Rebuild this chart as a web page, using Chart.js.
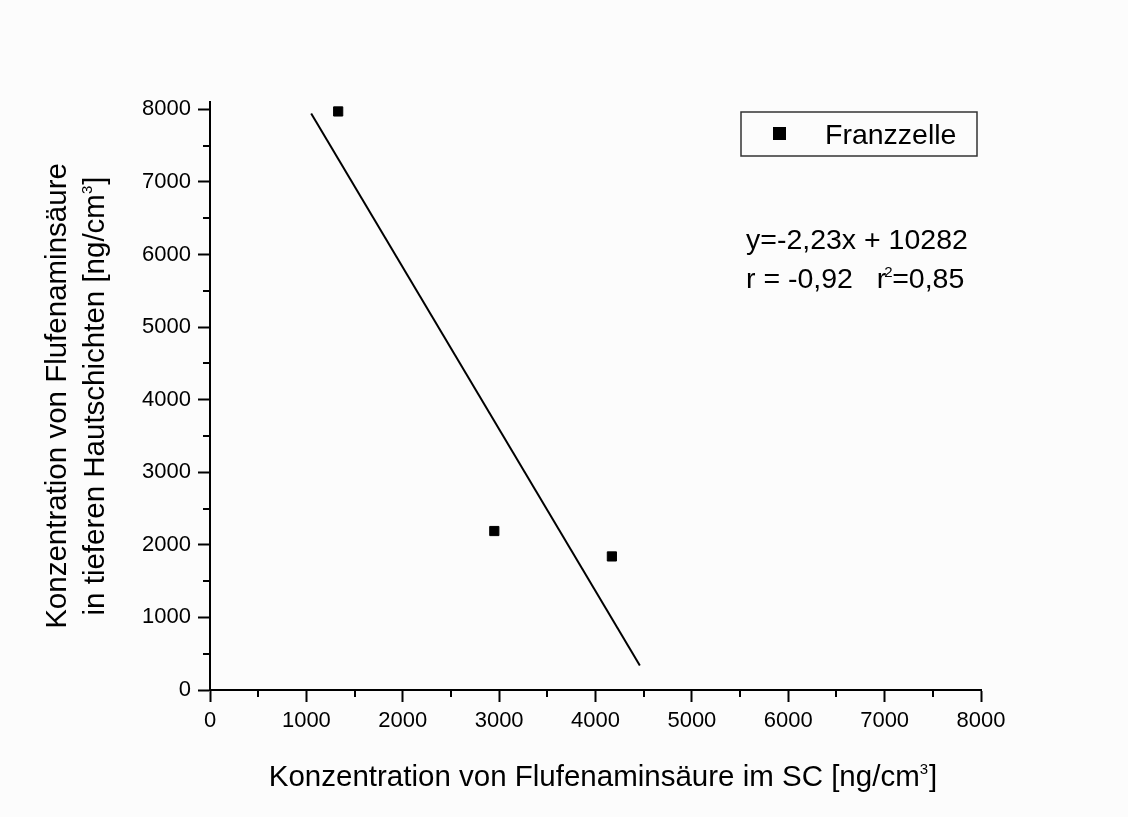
<!DOCTYPE html>
<html>
<head>
<meta charset="utf-8">
<script src="https://cdn.jsdelivr.net/npm/chart.js@4/dist/chart.umd.min.js"></script>
<style>
  html, body { margin: 0; padding: 0; background: #fcfcfc; }
  #wrap { width: 1128px; height: 817px; }
</style>
</head>
<body>
<div id="wrap"><canvas id="myChart" width="1128" height="817"></canvas></div>
<script>
// Messwerte (Franzzelle)
const scWerte = [1330, 2950, 4170];        // Konzentration im SC [ng/cm3]
const tiefeWerte = [7970, 2190, 1840];     // Konzentration in tieferen Hautschichten [ng/cm3]

// Regressionsgerade y = -2,23x + 10282
const steigung = -2.23;
const achsenabschnitt = 10282;
const fitBereich = [1050, 4460];

// Achsenbeschriftung
const xTicks = [0, 1000, 2000, 3000, 4000, 5000, 6000, 7000, 8000];
const yTicks = [0, 1000, 2000, 3000, 4000, 5000, 6000, 7000, 8000];
const minorStep = 500;

const schrift = "Arial, 'Liberation Sans', sans-serif";
const titelGroesse = 29.5;
const textGroesse = 28.5;

// Text mit hochgestellter Ziffer, z.B. "[ng/cm" + "3" + "]"
function hochText(ctx, vorne, hoch, hinten, x, y, groesse) {
    ctx.font = groesse + 'px ' + schrift;
    const b1 = ctx.measureText(vorne).width;
    ctx.fillText(vorne, x, y);
    ctx.font = '15px ' + schrift;
    ctx.fillText(hoch, x + b1, y - 12);
    const b2 = ctx.measureText(hoch).width;
    ctx.font = groesse + 'px ' + schrift;
    ctx.fillText(hinten, x + b1 + b2 + 1, y);
}

function hochBreite(ctx, vorne, hoch, hinten, groesse) {
    ctx.font = '15px ' + schrift;
    const b2 = ctx.measureText(hoch).width;
    ctx.font = groesse + 'px ' + schrift;
    return ctx.measureText(vorne).width + b2 + 1 + ctx.measureText(hinten).width;
}

// Nebenstriche, Achsentitel, Legende und Gleichung
const extras = {
    id: 'extras',
    afterDraw(chart) {
        const ctx = chart.ctx;
        const xs = chart.scales.x;
        const ys = chart.scales.y;
        const area = chart.chartArea;
        ctx.save();
        ctx.strokeStyle = '#000';
        ctx.lineWidth = 2;

        // Nebenstriche
        ctx.beginPath();
        for (let v = minorStep; v < 8000; v += 1000) {
            const px = Math.round(xs.getPixelForValue(v));
            ctx.moveTo(px, area.bottom);
            ctx.lineTo(px, area.bottom + 7);
            const py = Math.round(ys.getPixelForValue(v));
            ctx.moveTo(area.left, py);
            ctx.lineTo(area.left - 7, py);
        }
        ctx.stroke();

        ctx.fillStyle = '#000';
        ctx.textBaseline = 'alphabetic';
        ctx.textAlign = 'left';

        // x-Achsentitel
        const xVorne = 'Konzentration von Flufenaminsäure im SC [ng/cm';
        const xBreite = hochBreite(ctx, xVorne, '3', ']', titelGroesse);
        hochText(ctx, xVorne, '3', ']', 603 - xBreite / 2, 786, titelGroesse);

        // y-Achsentitel (zweizeilig, gedreht)
        ctx.save();
        ctx.rotate(-Math.PI / 2);
        ctx.textAlign = 'center';
        ctx.font = titelGroesse + 'px ' + schrift;
        ctx.fillText('Konzentration von Flufenaminsäure', -396, 66);
        ctx.textAlign = 'left';
        const yVorne = 'in tieferen Hautschichten [ng/cm';
        const yBreite = hochBreite(ctx, yVorne, '3', ']', titelGroesse);
        hochText(ctx, yVorne, '3', ']', -396 - yBreite / 2, 104, titelGroesse);
        ctx.restore();

        // Legende
        ctx.lineWidth = 1.5;
        ctx.strokeStyle = '#333';
        ctx.strokeRect(741, 112, 236, 44);
        ctx.fillRect(773, 127, 13, 13);
        ctx.font = textGroesse + 'px ' + schrift;
        ctx.fillText('Franzzelle', 825, 144);

        // Gleichung
        ctx.fillText('y=-2,23x + 10282', 746, 249);
        ctx.fillText('r = -0,92', 746, 288);
        const rx = 746 + ctx.measureText('r = -0,92   ').width;
        ctx.fillText('r', rx, 288);
        const rb = ctx.measureText('r').width;
        ctx.font = '15px ' + schrift;
        ctx.fillText('2', rx + rb - 2, 277);
        ctx.font = textGroesse + 'px ' + schrift;
        ctx.fillText('=0,85', rx + rb + 6, 288);
        ctx.restore();
    }
};

const punkte = scWerte.map((x, i) => ({ x: x, y: tiefeWerte[i] }));
const fitLinie = fitBereich.map(x => ({ x: x, y: steigung * x + achsenabschnitt }));

const ctx = document.getElementById('myChart').getContext('2d');
new Chart(ctx, {
    type: 'scatter',
    data: {
        datasets: [{
            label: 'Franzzelle',
            data: punkte,
            pointStyle: 'rect',
            radius: 6.5,
            backgroundColor: '#000',
            borderColor: '#000',
            borderWidth: 1
        }, {
            label: 'Fit',
            type: 'line',
            data: fitLinie,
            borderColor: '#000',
            borderWidth: 2,
            pointRadius: 0,
            fill: false
        }]
    },
    options: {
        responsive: false,
        animation: false,
        layout: { padding: { top: 102, right: 147, bottom: 0, left: 0 } },
        plugins: {
            legend: { display: false },
            tooltip: { enabled: false }
        },
        scales: {
            x: {
                type: 'linear',
                min: 0,
                max: 8000,
                afterFit(scale) { scale.height = 127; },
                afterBuildTicks(scale) { scale.ticks = xTicks.map(v => ({ value: v })); },
                border: { display: true, color: '#000', width: 2 },
                grid: { drawOnChartArea: false, drawTicks: true, tickLength: 12, tickWidth: 2, tickColor: '#000' },
                ticks: {
                    color: '#000', padding: 6, maxRotation: 0,
                    font: { family: schrift, size: 22 },
                    callback: v => String(v)
                }
            },
            y: {
                type: 'linear',
                min: 0,
                max: 8100,
                afterFit(scale) { scale.width = 210; },
                afterBuildTicks(scale) { scale.ticks = yTicks.map(v => ({ value: v })); },
                border: { display: true, color: '#000', width: 2 },
                grid: { drawOnChartArea: false, drawTicks: true, tickLength: 12, tickWidth: 2, tickColor: '#000' },
                ticks: {
                    color: '#000', padding: 7,
                    font: { family: schrift, size: 22 },
                    callback: v => String(v)
                }
            }
        }
    },
    plugins: [extras]
});
</script>
</body>
</html>
